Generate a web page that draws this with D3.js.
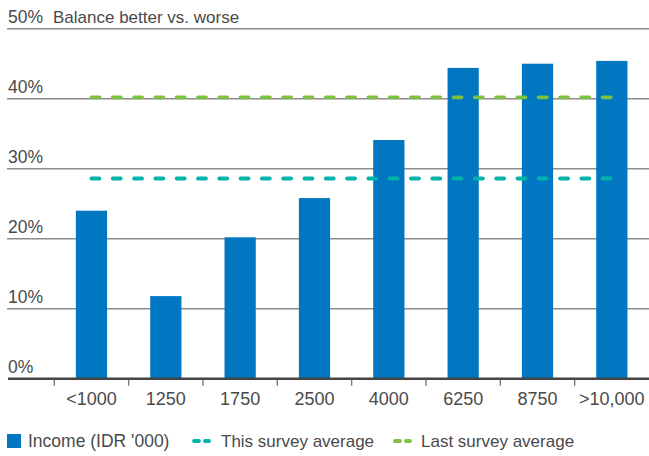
<!DOCTYPE html>
<html>
<head>
<meta charset="utf-8">
<script src="https://cdn.jsdelivr.net/npm/d3@7"></script>
<style>
  html, body { margin: 0; padding: 0; background: #fff; }
  svg { display: block; }
  text { font-family: "Liberation Sans", Arial, sans-serif; fill: #4a4a4a; }
</style>
</head>
<body>
<svg id="chart" width="649" height="456"></svg>
<script>
const categories = ["<1000", "1250", "1750", "2500", "4000", "6250", "8750", ">10,000"];
const incomeValues = [24.0, 11.8, 20.2, 25.8, 34.1, 44.4, 45.0, 45.4];
const thisSurveyAverage = 28.6;
const lastSurveyAverage = 40.2;
const yTicks = [0, 10, 20, 30, 40, 50];
const yTitle = "Balance better vs. worse";
const legendLabels = ["Income (IDR '000)", "This survey average", "Last survey average"];

const colors = { bar: "#0077c0", thisAvg: "#00b4ac", lastAvg: "#7cc142" };

const svg = d3.select("#chart");
const W = 649, H = 456;
const xLeft = 54.3, xRight = 649;
const y = d3.scaleLinear().domain([0, 50]).range([378.7, 28.7]);
const x = d3.scaleBand().domain(categories).range([xLeft, xRight]).paddingInner(0.58).paddingOuter(0.29);
const xb = d3.scaleBand().domain(categories).range([xLeft, xRight]);

// gridlines
svg.append("g").selectAll("line").data(yTicks.filter(d => d > 0)).join("line")
  .attr("x1", 7).attr("x2", W)
  .attr("y1", d => y(d)).attr("y2", d => y(d))
  .attr("stroke", "#8c8c8c").attr("stroke-width", 1.4);

// y labels
svg.append("g").selectAll("text").data(yTicks).join("text")
  .attr("x", 8).attr("y", d => y(d) - 6)
  .attr("font-size", 17.5)
  .text(d => d + "%");
svg.append("text").attr("x", 53).attr("y", y(50) - 6).attr("font-size", 17).text(yTitle);

// bars
svg.append("g").selectAll("rect").data(incomeValues).join("rect")
  .attr("x", (d, i) => x(categories[i]))
  .attr("width", x.bandwidth())
  .attr("y", d => y(d))
  .attr("height", d => y(0) - y(d))
  .attr("fill", colors.bar);

// average lines
const xStart = xb(categories[0]) + xb.bandwidth() / 2;
const xEnd = xb(categories[categories.length - 1]) + xb.bandwidth() / 2;
[[thisSurveyAverage, colors.thisAvg], [lastSurveyAverage, colors.lastAvg]].forEach(([v, c]) => {
  svg.append("line")
    .attr("x1", xStart).attr("x2", xEnd)
    .attr("y1", y(v)).attr("y2", y(v))
    .attr("stroke", c).attr("stroke-width", 3.8)
    .attr("stroke-linecap", "round")
    .attr("stroke-dasharray", "8 13.3");
});

// x axis
const xAxisG = svg.append("g").attr("transform", `translate(0,${y(0)})`);
xAxisG.append("line").attr("x1", 8).attr("x2", W).attr("y1", 0).attr("y2", 0)
  .attr("stroke", "#444").attr("stroke-width", 2.4);
xAxisG.selectAll("line.tick").data(categories).join("line").attr("class", "tick")
  .attr("x1", d => xb(d)).attr("x2", d => xb(d))
  .attr("y1", 1).attr("y2", 7)
  .attr("stroke", "#777").attr("stroke-width", 1.4);
xAxisG.selectAll("text").data(categories).join("text")
  .attr("x", d => xb(d) + xb.bandwidth() / 2)
  .attr("y", 26)
  .attr("text-anchor", "middle")
  .attr("font-size", 18)
  .text(d => d);

// legend
const lg = svg.append("g");
lg.append("rect").attr("x", 7).attr("y", 434).attr("width", 14).attr("height", 14).attr("fill", colors.bar);
lg.append("text").attr("x", 28).attr("y", 447).attr("font-size", 17.5).text(legendLabels[0]);
lg.append("line").attr("x1", 194).attr("x2", 209).attr("y1", 441).attr("y2", 441)
  .attr("stroke", colors.thisAvg).attr("stroke-width", 3.8).attr("stroke-linecap", "round").attr("stroke-dasharray", "5 6");
lg.append("text").attr("x", 221).attr("y", 447).attr("font-size", 17).text(legendLabels[1]);
lg.append("line").attr("x1", 395).attr("x2", 410).attr("y1", 441).attr("y2", 441)
  .attr("stroke", colors.lastAvg).attr("stroke-width", 3.8).attr("stroke-linecap", "round").attr("stroke-dasharray", "5 6");
lg.append("text").attr("x", 421).attr("y", 447).attr("font-size", 17).text(legendLabels[2]);
</script>
</body>
</html>
